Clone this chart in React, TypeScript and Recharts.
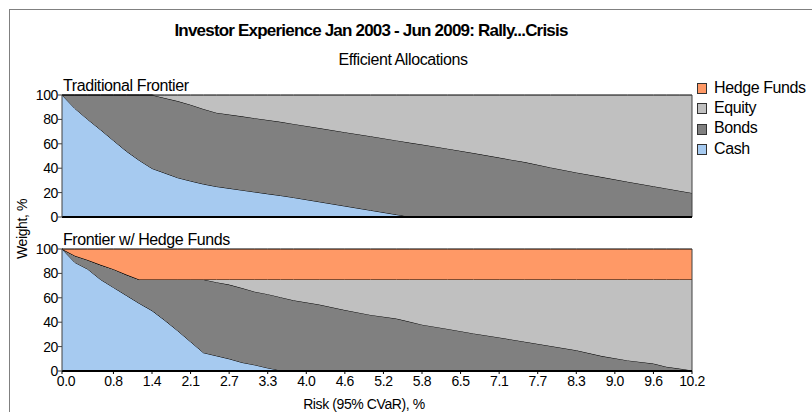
import { AreaChart, Area, XAxis, YAxis, ReferenceLine } from 'recharts';

// frontier point positions (index along the efficient frontier, 50 points)
const pointIdx = [0, 1, 2, 3, 4, 5, 6, 7, 8, 9, 10, 11, 12, 13, 14, 15, 16, 17, 18, 20, 22, 24, 26, 27, 28, 30, 32, 34, 36, 38, 40, 42, 44, 46, 47, 48, 49];

// risk (95% CVaR) labels shown on the x axis and the frontier point they sit on
const riskTickIdx = [0, 4, 7, 10, 13, 16, 19, 22, 25, 28, 31, 34, 37, 40, 43, 46, 49];
const riskLabels = ['0.0', '0.8', '1.4', '2.1', '2.7', '3.3', '4.0', '4.6', '5.2', '5.8', '6.5', '7.1', '7.7', '8.3', '9.0', '9.6', '10.2'];
const weightTicks = [0, 20, 40, 60, 80, 100];

// Traditional frontier weights, %
const tradCash = [100, 89, 80, 71.5, 62.7, 54, 46.5, 39.8, 36, 32.2, 29.5, 27, 25, 23.5, 22, 20.5, 19, 17.6, 16, 12.5, 9, 5.5, 2, 0.3, 0, 0, 0, 0, 0, 0, 0, 0, 0, 0, 0, 0, 0];
const tradBonds = [0, 11, 20, 28.5, 37.3, 46, 53.5, 60.2, 61.5, 62.8, 62.5, 61.5, 60.5, 60.5, 60.5, 60.5, 60.5, 60.4, 60.3, 60.4, 60.5, 60.7, 60.8, 60.7, 59.4, 56, 52.4, 48.7, 45, 40.6, 36.5, 32.7, 28.9, 25.2, 23.4, 21.5, 19.7];
const tradEquity = [0, 0, 0, 0, 0, 0, 0, 0, 2.5, 5, 8, 11.5, 14.5, 16, 17.5, 19, 20.5, 22, 23.7, 27.1, 30.5, 33.8, 37.2, 39, 40.6, 44, 47.6, 51.3, 55, 59.4, 63.5, 67.3, 71.1, 74.8, 76.6, 78.5, 80.3];

// Frontier with hedge funds weights, %
const hfCash = [100, 89, 83.5, 75, 68.5, 62, 55.5, 49.5, 41.5, 33, 24, 15, 12.5, 10, 7, 5, 2.5, 0.5, 0, 0, 0, 0, 0, 0, 0, 0, 0, 0, 0, 0, 0, 0, 0, 0, 0, 0, 0];
const hfBonds = [0, 5.5, 7.5, 12, 15, 17, 19.5, 25.5, 33.5, 42, 51, 60, 60.3, 60.8, 61, 60, 60.5, 60, 58, 54.5, 50, 46, 43, 40.5, 38, 34.5, 30.8, 27.5, 24, 20.5, 17, 12.2, 8.7, 6.1, 3.5, 2, 0.5];
const hfEquity = [0, 0, 0, 0, 0, 0, 0, 0, 0, 0, 0, 0, 2.2, 4.2, 7, 10, 12, 14.5, 17, 20.5, 25, 29, 32, 34.5, 37, 40.5, 44.2, 47.5, 51, 54.5, 58, 62.8, 66.3, 68.9, 71.5, 73, 74.5];
const hfHedge = [0, 5.5, 9, 13, 16.5, 21, 25, 25, 25, 25, 25, 25, 25, 25, 25, 25, 25, 25, 25, 25, 25, 25, 25, 25, 25, 25, 25, 25, 25, 25, 25, 25, 25, 25, 25, 25, 25];

const COLORS = { cash: '#A6CAF0', bonds: '#808080', equity: '#C0C0C0', hedge: '#FF9966' };
const FONT = "'Liberation Sans', Arial, sans-serif";

const tradRows = pointIdx.map((i, k) => ({ i, cash: tradCash[k], bonds: tradBonds[k], equity: tradEquity[k] }));
const hfRows = pointIdx.map((i, k) => ({ i, cash: hfCash[k], bonds: hfBonds[k], equity: hfEquity[k], hedge: hfHedge[k] }));

const legendItems = [
  { name: 'Hedge Funds', color: COLORS.hedge },
  { name: 'Equity', color: COLORS.equity },
  { name: 'Bonds', color: COLORS.bonds },
  { name: 'Cash', color: COLORS.cash },
];

// first label sits just right of the origin, like the original
const RiskTick = (props: any) => {
  const { x, y, payload } = props;
  return (
    <text x={x + (payload.value === 0 ? 4 : 0)} y={y} dy="0.71em" textAnchor="middle" fontSize={14} fill="#000">
      {riskLabels[riskTickIdx.indexOf(payload.value)]}
    </text>
  );
};

function FrontierChart({ rows, withHedge, showTicks }: { rows: any[]; withHedge: boolean; showTicks: boolean }) {
  return (
    <AreaChart width={812} height={247} data={rows} margin={{ top: 95, right: 120, bottom: 0, left: 2 }}>
      <XAxis
        type="number"
        dataKey="i"
        domain={[0, 49]}
        ticks={riskTickIdx}
        interval={0}
        tick={showTicks ? RiskTick : false}
        tickLine={showTicks ? { stroke: '#000' } : false}
        tickSize={3}
        axisLine={{ stroke: '#000', strokeWidth: 2 }}
        height={30}
      />
      <YAxis
        domain={[0, 100]}
        ticks={weightTicks}
        interval={0}
        width={60}
        tickSize={4}
        tickMargin={0}
        tick={{ fontSize: 14, fill: '#000' }}
        axisLine={{ stroke: '#404040' }}
        tickLine={{ stroke: '#404040' }}
      />
      <Area type="linear" dataKey="cash" stackId="w" fill={COLORS.cash} fillOpacity={1} stroke="#000" strokeWidth={1} isAnimationActive={false} dot={false} activeDot={false} />
      <Area type="linear" dataKey="bonds" stackId="w" fill={COLORS.bonds} fillOpacity={1} stroke="#000" strokeWidth={1} isAnimationActive={false} dot={false} activeDot={false} />
      <Area type="linear" dataKey="equity" stackId="w" fill={COLORS.equity} fillOpacity={1} stroke="#000" strokeWidth={1} isAnimationActive={false} dot={false} activeDot={false} />
      {withHedge && (
        <Area type="linear" dataKey="hedge" stackId="w" fill={COLORS.hedge} fillOpacity={1} stroke="#000" strokeWidth={1} isAnimationActive={false} dot={false} activeDot={false} />
      )}
      <ReferenceLine x={49} stroke="#404040" />
    </AreaChart>
  );
}

export default function App() {
  const text = (extra: React.CSSProperties): React.CSSProperties => ({
    position: 'absolute',
    lineHeight: 1,
    whiteSpace: 'nowrap',
    color: '#000',
    ...extra,
  });

  return (
    <div style={{ position: 'relative', width: 812, height: 412, overflow: 'hidden', background: '#fff', fontFamily: FONT, letterSpacing: '-0.4px' }}>
      <style>{'body{margin:0;overflow:hidden}'}</style>
      <div style={{ position: 'absolute', left: 9, top: 9, width: 900, height: 500, border: '1px solid #808080' }} />

      <div style={text({ left: 371, top: 21.6, fontSize: 17, fontWeight: 'bold', letterSpacing: '-0.8px', transform: 'translateX(-50%)' })}>
        Investor Experience Jan 2003 - Jun 2009: Rally...Crisis
      </div>
      <div style={text({ left: 403, top: 52.2, fontSize: 16, transform: 'translateX(-50%)' })}>Efficient Allocations</div>

      <div style={{ position: 'absolute', left: 0, top: 0 }}>
        <FrontierChart rows={tradRows} withHedge={false} showTicks={false} />
      </div>
      <div style={{ position: 'absolute', left: 0, top: 154 }}>
        <FrontierChart rows={hfRows} withHedge={true} showTicks={true} />
      </div>

      <div style={text({ left: 63, top: 78, fontSize: 16 })}>Traditional Frontier</div>
      <div style={text({ left: 63, top: 231.5, fontSize: 16 })}>Frontier w/ Hedge Funds</div>

      {legendItems.map((item, k) => (
        <div key={item.name}>
          <div style={{ position: 'absolute', left: 697, top: 83 + k * 20.3, width: 8, height: 9, background: item.color, border: '1px solid #333' }} />
          <div style={text({ left: 714, top: 79.8 + k * 20.3, fontSize: 16 })}>{item.name}</div>
        </div>
      ))}

      <div style={text({ left: 364, top: 397, fontSize: 14, transform: 'translateX(-50%)' })}>Risk (95% CVaR), %</div>
      <div style={text({ left: 22, top: 229, fontSize: 14, transform: 'translate(-50%, -50%) rotate(-90deg)' })}>Weight, %</div>
    </div>
  );
}
